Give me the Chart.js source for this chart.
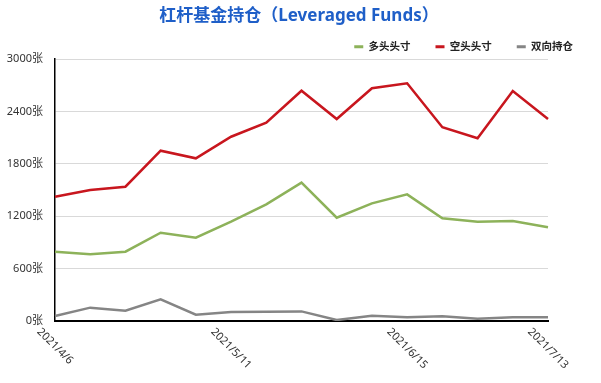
<!DOCTYPE html>
<html>
<head>
<meta charset="utf-8">
<script src="https://cdn.jsdelivr.net/npm/chart.js@4"></script>
<style>
  html, body { margin: 0; padding: 0; background: #fff; }
  #wrap { width: 601px; height: 383px; }
</style>
</head>
<body>
<div id="wrap"><canvas id="chartFunds"></canvas></div>
<script>
// weekly report dates
const dates = ["2021/4/6", "2021/4/13", "2021/4/20", "2021/4/27", "2021/5/4", "2021/5/11", "2021/5/18",
  "2021/5/25", "2021/6/1", "2021/6/8", "2021/6/15", "2021/6/22", "2021/6/29", "2021/7/6", "2021/7/13"];
// only these dates get a label under the axis
const shownDates = ["2021/4/6", "2021/5/11", "2021/6/15", "2021/7/13"];

const longPos = [794, 764, 794, 1011, 954, 1137, 1336, 1584, 1183, 1347, 1450, 1176, 1137, 1145, 1073];
const shortPos = [1423, 1500, 1538, 1950, 1863, 2110, 2271, 2637, 2313, 2665, 2722, 2218, 2092, 2634, 2313];
const spreadPos = [57, 153, 118, 248, 73, 103, 107, 110, 11, 61, 42, 54, 27, 42, 42];

const seriesNames = ["多头头寸", "空头头寸", "双向持仓"];
const seriesColors = ["#8db25a", "#c8161e", "#858585"];

const yMax = 3000;
const yStep = 600;

const font = "'Noto Sans', 'Noto Sans CJK SC', sans-serif";

// draws the rotated date labels under the x axis
const dateLabels = {
  id: "dateLabels",
  afterDraw(chart) {
    const ctx = chart.ctx;
    const xScale = chart.scales.x;
    const yBase = chart.chartArea.bottom;
    ctx.save();
    ctx.font = "11px " + font;
    ctx.fillStyle = "#333";
    ctx.textAlign = "center";
    ctx.textBaseline = "middle";
    shownDates.forEach(d => {
      const x = xScale.getPixelForValue(dates.indexOf(d));
      const w = ctx.measureText(d).width;
      ctx.save();
      ctx.translate(x, yBase + 9 + w * 0.3536);
      ctx.rotate(Math.PI / 4);
      ctx.fillText(d, 0, 0);
      ctx.restore();
    });
    ctx.restore();
  }
};

const datasets = [longPos, shortPos, spreadPos].map((vals, i) => ({
  label: seriesNames[i],
  data: vals,
  borderColor: seriesColors[i],
  backgroundColor: seriesColors[i],
  borderWidth: 2.5,
  pointRadius: 0,
  tension: 0,
  fill: false
}));

new Chart(document.getElementById("chartFunds"), {
  type: "line",
  data: { labels: dates, datasets: datasets },
  plugins: [dateLabels],
  options: {
    responsive: true,
    maintainAspectRatio: false,
    animation: false,
    layout: { padding: { top: 0, left: 0, right: 3, bottom: 0 } },
    plugins: {
      title: {
        display: true,
        text: "杠杆基金持仓（Leveraged Funds）",
        color: "#1f5fc8",
        font: { family: font, size: 17, weight: "bold" },
        padding: { top: 6, bottom: -9.9 }
      },
      legend: {
        display: true,
        position: "top",
        align: "end",
        maxHeight: 42.5,
        labels: {
          boxWidth: 9,
          boxHeight: 3,
          padding: 25,
          color: "#222",
          font: { family: font, size: 10.5, weight: "bold" },
          generateLabels(chart) {
            return Chart.defaults.plugins.legend.labels.generateLabels(chart).map(l => {
              l.lineWidth = 0;
              l.fillStyle = l.strokeStyle;
              return l;
            });
          }
        }
      },
      tooltip: { enabled: false }
    },
    scales: {
      x: {
        offset: false,
        grid: { display: false },
        border: { display: true, color: "#000", width: 2 },
        ticks: { display: false },
        afterFit: s => { s.height = 62; }
      },
      y: {
        min: 0,
        max: yMax,
        border: { display: true, color: "#000", width: 1.5 },
        grid: { color: "#d9d9d9", lineWidth: 1, drawTicks: false },
        ticks: {
          stepSize: yStep,
          padding: 12,
          color: "#333",
          font: { family: font, size: 11 },
          callback: v => v + "张"
        },
        afterFit: s => { s.width = 55; }
      },
      yPad: {
        position: "right",
        display: true,
        grid: { display: false },
        border: { display: false },
        ticks: { display: false },
        afterFit: s => { s.width = 50; }
      }
    }
  }
});
</script>
</body>
</html>
